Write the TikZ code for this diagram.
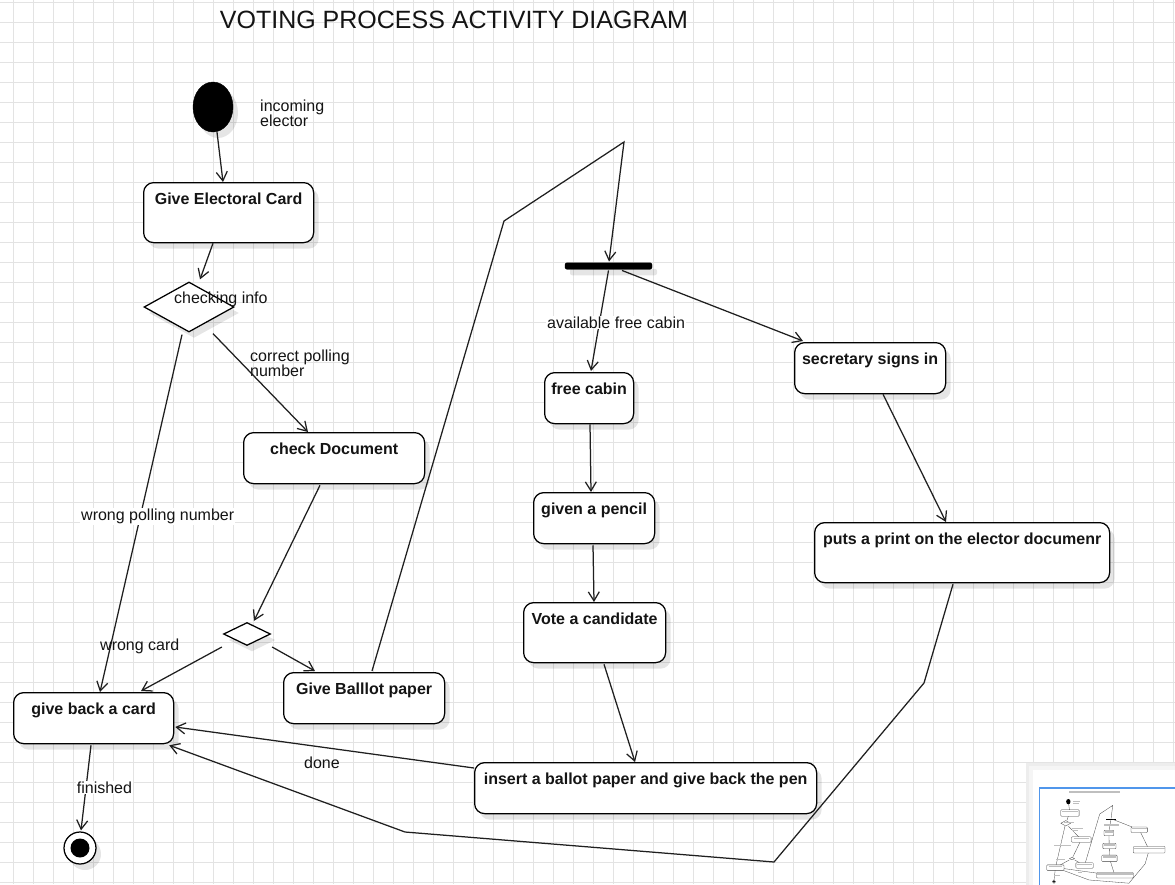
\documentclass[tikz,border=0pt]{standalone}
\usepackage{fontspec}
\setmainfont{Liberation Sans}
\usetikzlibrary{arrows.meta,shapes.geometric,shadows,calc}
\definecolor{gridc}{RGB}{227,227,227}
\definecolor{mapblue}{RGB}{80,150,235}
\definecolor{txt}{RGB}{20,20,20}
\tikzset{
  lwd/.style={line width=1.25pt},
  shad/.style={drop shadow={shadow xshift=5pt,shadow yshift=-6pt,fill=black,opacity=0.1}},
  conn/.style={lwd, draw=black!88, -{Straight Barb[length=9pt,width=11pt]}},
  actbox/.style 2 args={draw=black, lwd, fill=white, rounded corners=10pt, shad, anchor=north west,
    inner xsep=0pt, inner ysep=0pt, minimum width=#1, text height=22pt, text depth=#2,
    font=\fontsize{16}{19}\selectfont\bfseries, text=txt},
  lbl/.style={anchor=base west, inner sep=0pt, font=\fontsize{16}{19}\selectfont, text=txt},
  lblbg/.style={lbl, fill=white, inner sep=1pt},
  dec/.style 2 args={diamond, draw=black, lwd, fill=white, shad, inner sep=0pt, minimum width=#1, minimum height=#2},
  gridline/.style={draw=gridc, line width=0.8pt},
  mini/.style={line width=0.3pt, draw=black!75},
  minitxt/.style={fill=black!25},
}
\begin{document}
\begin{tikzpicture}[x=1pt,y=-1pt]
\useasboundingbox (0,0) rectangle (1175,884);
\fill[white] (0,0) rectangle (1175,884);
% grid
\foreach \x in {13,33,...,1173} \draw[gridline] (\x,0) -- (\x,884);
\foreach \y in {2,22,...,882} \draw[gridline] (0,\y) -- (1175,\y);

% title
\node[font=\fontsize{25}{30}\selectfont, text=txt, anchor=base, inner sep=0pt] (title) at (454,28) {VOTING PROCESS ACTIVITY DIAGRAM};

% nodes
\node[ellipse, fill=black, draw=black, minimum width=40, minimum height=50, inner sep=0pt, shad] (init) at (213,107) {};
\node[lbl] (incl1) at (260,111.7) {incoming};
\node[lbl] (incl2) at (260,126.7) {elector};

\node[actbox={170}{38pt}] (gec) at (143,182) {Give Electoral Card};
\node[dec={90}{50}] (chk) at (189,307) {};
\node[actbox={181}{29pt}] (cdoc) at (243,432) {check Document};
\node[dec={47}{23}] (dec2) at (247,634) {};
\node[actbox={160}{29pt}] (gbc) at (13,692) {give back a card};
\node[actbox={161}{29pt}] (gbp) at (283,672) {Give Balllot paper};
\node[fill=black, draw=black, rounded corners=2pt, minimum width=87, minimum height=6.5, inner sep=0pt, shad] (fork) at (608.5,266) {};
\node[actbox={89}{29pt}] (fc) at (544,372) {free cabin};
\node[actbox={151}{29pt}] (ss) at (794,342) {secretary signs in};
\node[actbox={121}{29pt}] (gp) at (533,492) {given a pencil};
\node[actbox={142}{38pt}] (vc) at (523,602) {Vote a candidate};
\node[actbox={295}{38pt}] (pp) at (814,522) {puts a print on the elector documenr};
\node[actbox={342}{29pt}] (ib) at (474,762) {insert a ballot paper and give back the pen};
\node[circle, draw=black, lwd, fill=white, minimum size=32, inner sep=0pt, shad] (fin) at (80,848) {};
\node[circle, fill=black, minimum size=19, inner sep=0pt] (finin) at (fin.center) {};

% connectors
\draw[conn] ($(init.south)+(4,0)$) -- ($(gec.north west)+(80,0)$);
\draw[conn] ($(gec.south west)+(70,0)$) -- ($(chk.north)+(11,-2)$);
\draw[conn] ($(chk.south)+(24,1)$) -- ($(cdoc.north west)+(65,0)$);
\draw[conn] ($(chk.south)+(-7,2)$) -- ($(gbc.north west)+(87,0)$);
\draw[conn] ($(cdoc.south west)+(77,1)$) -- ($(dec2.north)+(7,-1)$);
\draw[conn] ($(dec2.west)+(-1,13)$) -- ($(gbc.north west)+(128,-1)$);
\draw[conn] ($(dec2.east)+(1,13)$) -- ($(gbp.north west)+(32,-1)$);
\draw[conn] ($(gbp.north west)+(89,-1)$) -- (504,221) -- (624,142) -- ($(fork.north)+(0.5,-1)$);
\draw[conn] ($(fork.south)+(0,1)$) -- ($(fc.north west)+(47,-1)$);
\draw[conn] ($(fork.south)+(13.5,1)$) -- ($(ss.north west)+(9,-1)$);
\draw[conn] ($(fc.south west)+(46,0)$) -- ($(gp.north west)+(58,0)$);
\draw[conn] ($(gp.south west)+(60,1)$) -- ($(vc.north west)+(71,0)$);
\draw[conn] ($(vc.south west)+(81,1)$) -- ($(ib.north west)+(161,0)$);
\draw[conn] ($(ss.south west)+(89,0)$) -- ($(pp.north west)+(132,0)$);
\draw[conn] ($(ib.north west)+(0,6)$) -- ($(gbc.north east)+(1,35)$);
\draw[conn] ($(pp.south west)+(139,1)$) -- (924,683) -- (774,862) -- (405,832) -- ($(gbc.south east)+(-5,1)$);
\draw[conn] ($(gbc.south west)+(78,1)$) -- ($(fin.north)+(1,-1)$);

% labels
\node[lbl] (chkl) at (174,303.3) {checking info};
\node[lbl] (cpn1) at (250,361) {correct polling};
\node[lbl] (cpn2) at (250,376.7) {number};
\node[lblbg] (wpn) at (80,520.7) {wrong polling number};
\node[lbl] (wcl) at (100,650.7) {wrong card};
\node[lblbg] (afc) at (546,328.3) {available free cabin};
\node[lbl] (donel) at (304,768.3) {done};
\node[lblbg] (finl) at (75.7,793.3) {finished};

% outline panel (minimap)
\begin{scope}
\clip (0,0) rectangle (1175,884);
\fill[black!7] (1026,763) rectangle (1185,895);
\fill[black!4] (1029,766) rectangle (1185,895);
\fill[white] (1033,770) rectangle (1185,895);
\begin{scope}[shift={(1045.3,790.1)}, scale=0.108]
  \fill[minitxt] (220,11) rectangle (688,28);
  \fill (213,107) ellipse [x radius=20, y radius=25];
  \fill[minitxt] (260,101) rectangle (325,112);
  \fill[minitxt] (260,116) rectangle (310,127);
  \foreach \a/\b/\c/\d/\e/\f/\g/\h in {
    143/182/313/242/154/192/304/204,
    243/432/424/483/269/442/400/454,
    13/692/173/743/31/702/157/714,
    283/672/444/723/295/682/434/694,
    544/372/633/423/551/382/628/394,
    794/342/945/393/801/352/940/364,
    533/492/654/543/541/502/649/514,
    523/602/665/662/531/612/659/624,
    814/522/1109/582/822/532/1104/544,
    474/762/816/813/481/772/811/784}
  { \draw[mini, fill=white, rounded corners=0.8pt] (\a,\b) rectangle (\c,\d);
    \fill[minitxt] (\e,\f) rectangle (\g,\h); }
  \draw[mini, fill=white] (144,307) -- (189,282) -- (234,307) -- (189,332) -- cycle;
  \draw[mini, fill=white] (223.5,634) -- (247,622.5) -- (270.5,634) -- (247,645.5) -- cycle;
  \fill (565,263) rectangle (652,269);
  \draw[mini, fill=white] (80,848) circle (16);
  \fill (80,848) circle (9.5);
  \draw[mini] (217,132) -- (223,182);
  \draw[mini] (213,242) -- (200,280);
  \draw[mini] (213,333) -- (308,432);
  \draw[mini] (182,334) -- (100,692);
  \draw[mini] (320,484) -- (254,621);
  \draw[mini] (222,647) -- (141,691);
  \draw[mini] (272,647) -- (315,671);
  \draw[mini] (371,671) -- (504,221) -- (624,142) -- (609,262);
  \draw[mini] (608,270) -- (591,371);
  \draw[mini] (622,270) -- (803,341);
  \draw[mini] (590,423) -- (591,492);
  \draw[mini] (593,544) -- (594,602);
  \draw[mini] (604,663) -- (635,762);
  \draw[mini] (883,393) -- (946,522);
  \draw[mini] (474,768) -- (174,727);
  \draw[mini] (953,583) -- (924,683) -- (774,862) -- (405,832) -- (168,744);
  \draw[mini] (91,743) -- (81,832);
  \fill[minitxt] (174,292) rectangle (268,304);
  \fill[minitxt] (250,350) rectangle (351,361);
  \fill[minitxt] (250,366) rectangle (305,377);
  \fill[minitxt] (81,510) rectangle (236,521);
  \fill[minitxt] (100,640) rectangle (180,651);
  \fill[minitxt] (547,317) rectangle (686,328);
  \fill[minitxt] (304,757) rectangle (339,768);
  \fill[minitxt] (77,782) rectangle (132,793);
\end{scope}
\draw[mapblue, line width=1.2pt] (1039.5,788) rectangle (1190,900);
\end{scope}
\end{tikzpicture}
\end{document}
